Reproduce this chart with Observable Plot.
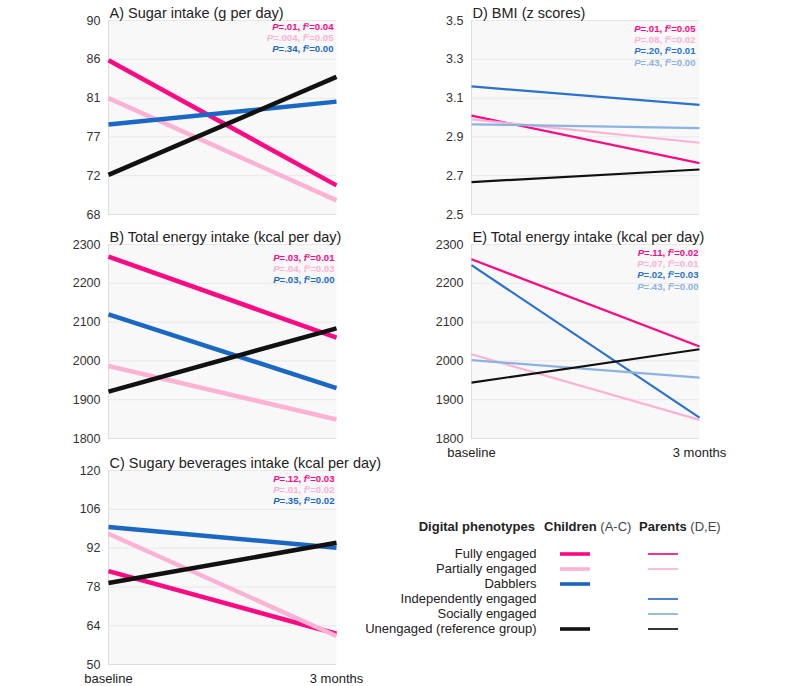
<!DOCTYPE html>
<html>
<head>
<meta charset="utf-8">
<script src="https://cdn.jsdelivr.net/npm/d3@7"></script>
<script src="https://cdn.jsdelivr.net/npm/@observablehq/plot@0.6"></script>
<style>
  html, body { margin: 0; padding: 0; background: #fff; }
  #chart { position: relative; width: 800px; height: 686px; overflow: hidden; font-family: "Liberation Sans", Arial, Helvetica, sans-serif; color: #222; }
  .abs { position: absolute; }
  .hdr { position: absolute; font-size: 13px; white-space: nowrap; line-height: 16px; color: #222; }
  .hdr b { font-weight: bold; }
</style>
</head>
<body>
<div id="chart"></div>
<script>
// ---------- data ----------
const times = ["baseline", "3 months"];

const allGroups = ["Fully engaged", "Partially engaged", "Dabblers", "Independently engaged", "Socially engaged", "Unengaged (reference group)"];
const allColors = ["#fb0a84", "#fbb2d5", "#1a68c4", "#2a72cc", "#8cb3e0", "#111111"];

const childGroups = ["Fully engaged", "Partially engaged", "Dabblers", "Unengaged (reference group)"];
const parentGroups = ["Fully engaged", "Partially engaged", "Independently engaged", "Socially engaged", "Unengaged (reference group)"];

// A) Sugar intake (g per day) - children
const sugarBaseline = [85.5, 81.2, 78.2, 72.5];
const sugar3Months  = [71.3, 69.6, 80.8, 83.6];
const sugarStats = ["P=.01, f²=0.04", "P=.004, f²=0.05", "P=.34, f²=0.00"];
const sugarTicks = [68, 72.4, 76.8, 81.2, 85.6, 90];
const sugarTickLabels = ["68", "72", "77", "81", "86", "90"];

// B) Total energy intake (kcal per day) - children
const energyChildBaseline = [2269, 1987, 2120, 1921];
const energyChild3Months  = [2060, 1849, 1930, 2084];
const energyChildStats = ["P=.03, f²=0.01", "P=.04, f²=0.03", "P=.03, f²=0.00"];
const energyTicks = [1800, 1900, 2000, 2100, 2200, 2300];

// C) Sugary beverages intake (kcal per day) - children
const bevBaseline = [83.7, 97.2, 99.6, 79.4];
const bev3Months  = [61.1, 60.3, 92.1, 93.9];
const bevStats = ["P=.12, f²=0.03", "P=.01, f²=0.02", "P=.35, f²=0.02"];
const bevTicks = [50, 64, 78, 92, 106, 120];

// D) BMI (z scores) - parents
const bmiBaseline = [3.01, 2.99, 3.16, 2.965, 2.667];
const bmi3Months  = [2.765, 2.87, 3.065, 2.945, 2.732];
const bmiStats = ["P=.01, f²=0.05", "P=.08, f²=0.02", "P=.20, f²=0.01", "P=.43, f²=0.00"];
const bmiTicks = [2.5, 2.7, 2.9, 3.1, 3.3, 3.5];

// E) Total energy intake (kcal per day) - parents
const energyParentBaseline = [2262, 2017, 2247, 2002, 1944];
const energyParent3Months  = [2037, 1848, 1854, 1957, 2030];
const energyParentStats = ["P=.11, f²=0.02", "P=.07, f²=0.01", "P=.02, f²=0.03", "P=.43, f²=0.00"];

// ---------- helpers ----------
const FONT = "Liberation Sans, Arial, Helvetica, sans-serif";
const root = document.getElementById("chart");
const colorOf = g => allColors[allGroups.indexOf(g)];

function rows(groups, base, m3) {
  return groups.flatMap((g, i) => [
    {group: g, time: times[0], value: base[i]},
    {group: g, time: times[1], value: m3[i]}
  ]);
}

function italicize(svg) {
  d3.select(svg).selectAll("text").each(function() {
    const s = this.textContent;
    const m = /^(P)(=[^,]*, )(f)(.*)$/.exec(s);
    if (!m) return;
    const t = d3.select(this);
    t.text(null);
    t.append("tspan").attr("font-style", "italic").text(m[1]);
    t.append("tspan").text(m[2]);
    t.append("tspan").attr("font-style", "italic").text(m[3]);
    t.append("tspan").text(m[4]);
  });
}

function panel(o) {
  const data = rows(o.groups, o.base, o.m3);
  const statGroups = o.groups.filter(g => !g.startsWith("Unengaged"));
  const marks = [
    Plot.frame({fill: "#f8f8f8", stroke: null}),
    Plot.gridY(o.ticks, {stroke: "#e8e8e8", strokeOpacity: 1}),
    Plot.ruleX([times[0]], {stroke: "#dedede"}),
    Plot.ruleY([o.domain[0]], {stroke: "#dedede"}),
    Plot.axisY(o.ticks, {tickSize: 0, tickPadding: 8, fontSize: 12.5, label: null, tickFormat: o.tickFormat}),
    Plot.line(data, {x: "time", y: "value", z: "group", stroke: "group", strokeWidth: o.lineWidth, strokeLinecap: "butt"}),
    Plot.text([o.title], {frameAnchor: "top-left", dx: 1, dy: -7, textAnchor: "start", lineAnchor: "middle", fontSize: 14.5, fill: "#222"}),
    ...o.stats.map((s, i) => Plot.text([s], {
      frameAnchor: "top-right", dx: o.statDx, dy: o.statOffset + i * 11.4,
      textAnchor: "end", lineAnchor: "middle", fontSize: 9.6, fontWeight: "bold",
      fill: colorOf(statGroups[i])
    }))
  ];
  if (o.showX) marks.push(Plot.axisX({tickSize: 0, tickPadding: 9, fontSize: 13, label: null, fill: "#222"}));
  const svg = Plot.plot({
    width: 330,
    height: o.height,
    marginLeft: 58,
    marginRight: 44,
    marginTop: 20,
    marginBottom: o.marginBottom,
    style: {fontFamily: FONT, overflow: "visible", color: "#333", background: "transparent"},
    x: {type: "point", domain: times, padding: 0, axis: o.showX ? undefined : null},
    y: {domain: o.domain},
    color: {domain: allGroups, range: allColors},
    marks
  });
  italicize(svg);
  svg.classList.add("abs");
  svg.style.left = o.left + "px";
  svg.style.top = o.top + "px";
  root.appendChild(svg);
}

const childW = 4.5, parentW = 2.2;

panel({left: 50, top: 0, height: 220, marginBottom: 6, domain: [68, 90], ticks: sugarTicks,
  tickFormat: d => sugarTickLabels[sugarTicks.indexOf(d)],
  groups: childGroups, base: sugarBaseline, m3: sugar3Months, stats: sugarStats, statOffset: 6, statDx: -3,
  title: "A) Sugar intake (g per day)", lineWidth: childW, showX: false});

panel({left: 50, top: 224, height: 220, marginBottom: 6, domain: [1800, 2300], ticks: energyTicks,
  tickFormat: d => String(d),
  groups: childGroups, base: energyChildBaseline, m3: energyChild3Months, stats: energyChildStats, statOffset: 13, statDx: -2,
  title: "B) Total energy intake (kcal per day)", lineWidth: childW, showX: false});

panel({left: 50, top: 449.5, height: 236, marginBottom: 22, domain: [50, 120], ticks: bevTicks,
  tickFormat: d => String(d),
  groups: childGroups, base: bevBaseline, m3: bev3Months, stats: bevStats, statOffset: 8, statDx: -2,
  title: "C) Sugary beverages intake (kcal per day)", lineWidth: childW, showX: true});

panel({left: 413, top: 0, height: 220, marginBottom: 6, domain: [2.5, 3.5], ticks: bmiTicks,
  tickFormat: d => d.toFixed(1),
  groups: parentGroups, base: bmiBaseline, m3: bmi3Months, stats: bmiStats, statOffset: 8, statDx: -4,
  title: "D) BMI (z scores)", lineWidth: parentW, showX: false});

panel({left: 413, top: 223.5, height: 240, marginBottom: 26, domain: [1800, 2300], ticks: energyTicks,
  tickFormat: d => String(d),
  groups: parentGroups, base: energyParentBaseline, m3: energyParent3Months, stats: energyParentStats, statOffset: 8, statDx: -1,
  title: "E) Total energy intake (kcal per day)", lineWidth: parentW, showX: true});

// ---------- legend ----------
const legendCols = ["Children", "Parents"];
const legendChild = childGroups.map(g => ({group: g, col: legendCols[0]}));
const legendParent = parentGroups.map(g => ({group: g, col: legendCols[1]}));

const legendSvg = Plot.plot({
  width: 300,
  height: 101,
  marginLeft: 160,
  marginRight: 22,
  marginTop: 4,
  marginBottom: 4,
  style: {fontFamily: FONT, overflow: "visible", color: "#222", background: "transparent"},
  x: {type: "band", domain: legendCols, paddingInner: 0.66, paddingOuter: 0, axis: null},
  y: {type: "band", domain: allGroups, padding: 0},
  color: {domain: allGroups, range: allColors},
  marks: [
    Plot.axisY({tickSize: 0, tickPadding: 24, fontSize: 13, label: null}),
    Plot.tickY(legendChild, {x: "col", y: "group", stroke: "group", strokeWidth: 3.6}),
    Plot.tickY(legendParent, {x: "col", y: "group", stroke: "group", strokeWidth: 1.7})
  ]
});
legendSvg.classList.add("abs");
legendSvg.style.left = "400px";
legendSvg.style.top = "540px";
root.appendChild(legendSvg);

// legend headers
function header(html, left, anchorRight) {
  const d = document.createElement("div");
  d.className = "hdr";
  d.innerHTML = html;
  d.style.top = "519px";
  if (anchorRight) d.style.right = (800 - left) + "px"; else d.style.left = left + "px";
  root.appendChild(d);
}
header("<b>Digital phenotypes</b>", 535, true);
header("<b>Children</b> <span style='color:#444'>(A-C)</span>", 544, false);
header("<b>Parents</b> <span style='color:#444'>(D,E)</span>", 639, false);
</script>
</body>
</html>
